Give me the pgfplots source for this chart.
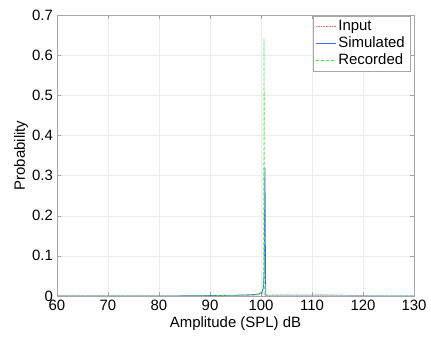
\documentclass[border=0pt]{standalone}
\usepackage{fontspec}
\setmainfont{Liberation Sans}
\usepackage{pgfplots}
\pgfplotsset{compat=1.18}
\usetikzlibrary{calc}
\definecolor{inred}{RGB}{255,110,110}
\definecolor{simblue}{RGB}{70,100,240}
\definecolor{recgreen}{RGB}{60,230,60}
\begin{document}
\begin{tikzpicture}
\fontsize{15}{17}\selectfont
\begin{axis}[
  scale only axis,
  width=357bp, height=281bp,
  xmin=60, xmax=130, ymin=0, ymax=0.7,
  xtick={60,70,...,130}, ytick={0,0.1,...,0.7},
  yticklabel style={xshift=1bp, /pgf/number format/fixed, /pgf/number format/precision=1},
  /pgf/number format/assume math mode=true,
  tick label style={font=\fontsize{15}{17}\selectfont},
  xticklabel style={yshift=-3bp, inner sep=1bp},
  label style={font=\fontsize{15}{17}\selectfont},
  xlabel={Amplitude (SPL) dB},
  ylabel={Probability},
  xlabel style={yshift=0bp},
  ylabel style={yshift=-6bp},
  axis line style={gray!70},
  tick style={gray!70},
  tick align=inside,
  major tick length=4bp,
  grid=major,
  major grid style={gray!15},
  legend style={at={(1,1)}, anchor=north east, xshift=-4bp, yshift=-1bp, draw=gray!70, font=\fontsize{15}{17}\selectfont, inner xsep=3bp, inner ysep=2bp, row sep=0bp, legend cell align=left},
  legend image code/.code={\draw[#1] plot coordinates {(0cm,0cm) (0.35cm,0cm) (0.7cm,0cm)};},
]
\addplot[inred, densely dotted, line width=0.6pt] coordinates {
(60,0) (80,0.0002) (85,0.0005) (90,0.001) (95,0.0015) (99,0.002) (100.3,0.003) (100.6,0.004) (100.8,0.004) (101.1,0.004) (103,0.004) (106,0.0042) (110,0.004) (113,0.0035) (116,0.0025) (118,0.0015) (120,0.0007) (121,0.0002) (122,0)
};
\addlegendentry{Input}
\addplot[simblue, line width=0.8pt] coordinates {
(60,0) (80,0) (85,0.0003) (90,0.001) (95,0.002) (98,0.003) (99.6,0.005) (100.2,0.01) (100.45,0.02) (100.62,0.06) (100.78,0.32) (100.88,0.05) (100.95,0.002) (101.1,0) (130,0)
};
\addlegendentry{Simulated}
\addplot[recgreen, densely dashed, line width=0.7pt] coordinates {
(60,0) (80,0) (85,0.0002) (90,0.0008) (95,0.0015) (98,0.002) (100.1,0.004) (100.4,0.01) (100.52,0.05) (100.6,0.64) (100.68,0.05) (100.78,0.002) (101.1,0) (130,0)
};
\addlegendentry{Recorded}
\end{axis}
\pgfresetboundingbox
\path[use as bounding box] ($(current axis.south west)+(-57bp,-42bp)$) rectangle ($(current axis.north east)+(17bp,15bp)$);
\end{tikzpicture}
\end{document}
